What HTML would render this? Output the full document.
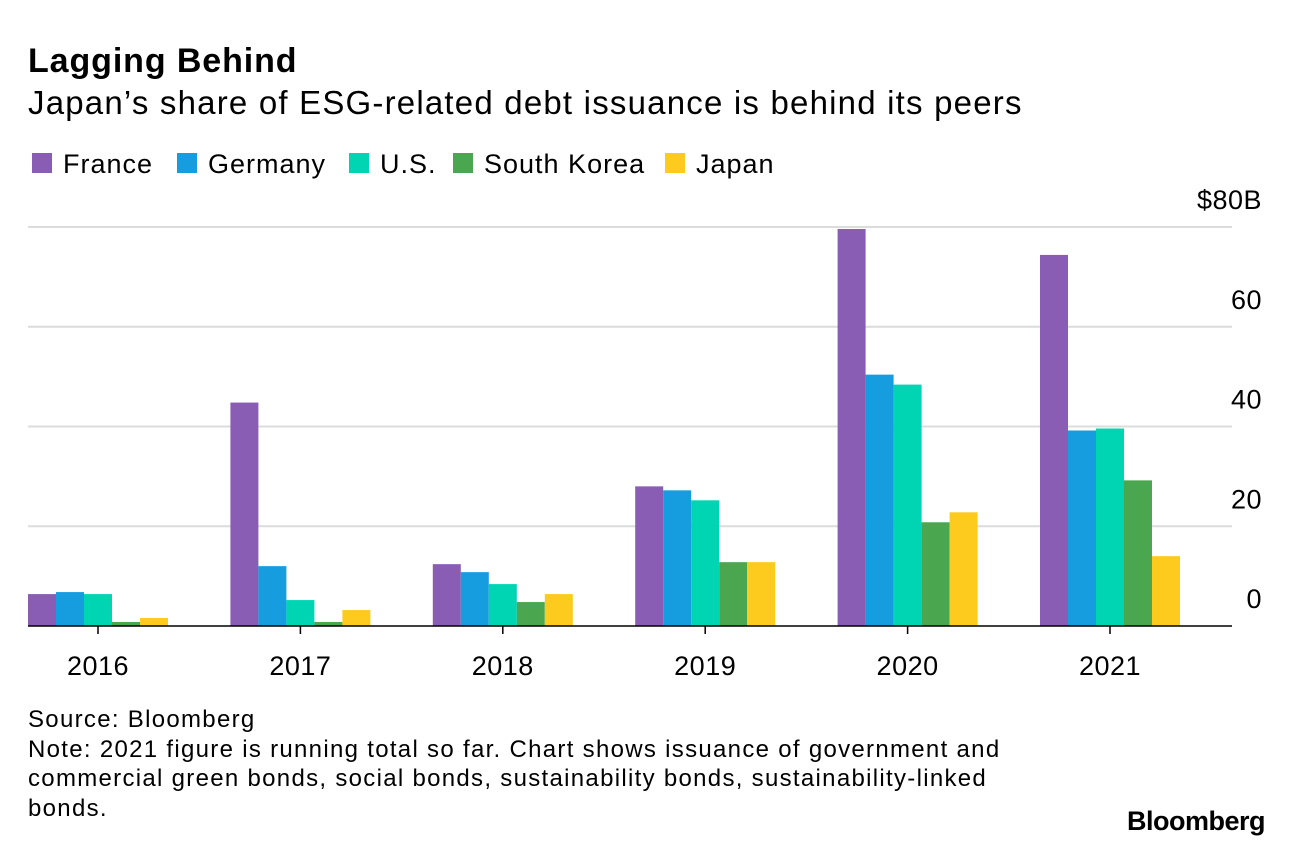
<!DOCTYPE html>
<html><head><meta charset="utf-8"><style>
body{margin:0;background:#fff;width:1296px;height:850px;overflow:hidden;font-family:"Liberation Sans",sans-serif;color:#000}
.t{position:absolute;white-space:nowrap}
</style></head><body>
<div class="t" style="left:28px;top:42px;font-size:34px;font-weight:bold;letter-spacing:0.9px">Lagging Behind</div>
<div class="t" style="left:28px;top:84px;font-size:33px;letter-spacing:1.2px">Japan’s share of ESG-related debt issuance is behind its peers</div>
<svg width="1296" height="850" style="position:absolute;left:0;top:0">
<g id="legend"></g><g id="grid"></g><g id="bars"></g><g id="axes"></g>
</svg>
<div class="t" style="left:28px;top:705px;font-size:24px;line-height:29.5px;letter-spacing:1.3px">Source: Bloomberg<br>Note: 2021 figure is running total so far. Chart shows issuance of government and<br>commercial green bonds, social bonds, sustainability bonds, sustainability-linked<br>bonds.</div>
<div class="t" style="left:1127px;top:806px;font-size:27px;font-weight:bold;letter-spacing:-0.5px">Bloomberg</div>
<script>
const years=["2016","2017","2018","2019","2020","2021"];
const seriesNames=["France","Germany","U.S.","South Korea","Japan"];
const france=[6.4,44.8,12.4,28,79.6,74.4];
const germany=[6.8,12,10.8,27.2,50.4,39.2];
const us=[6.4,5.2,8.4,25.2,48.4,39.6];
const southKorea=[0.8,0.8,4.8,12.8,20.8,29.2];
const japan=[1.6,3.2,6.4,12.8,22.8,14];
const yTicks=[0,20,40,60,80];
const yTickLabels=["0","20","40","60","$80B"];
const series=[france,germany,us,southKorea,japan];
const colors=["#8a5db4","#169ddf","#00d5b3","#4aa74f","#fdcb1d"];
const NS="http://www.w3.org/2000/svg";
const y=v=>626-v*(399/80);
const gx=i=>98+i*202.4;
const bw=28;
function mk(tag,attrs,parent,text){const e=document.createElementNS(NS,tag);for(const k in attrs)e.setAttribute(k,attrs[k]);if(text!=null)e.textContent=text;document.getElementById(parent).appendChild(e);return e;}
const legendX=[32,177,349,453,665];
seriesNames.forEach((n,i)=>{
 const lx=legendX[i];
 const r=mk('rect',{x:lx,y:153,width:20,height:20,fill:colors[i]},'legend');
 
 
 const t=mk('text',{x:lx+31,y:173,'font-size':27,'letter-spacing':1},'legend',n);
 
 
});
yTicks.forEach((v,i)=>{
 if(v>0){const l=mk('line',{x1:28,x2:1232,y1:y(v),y2:y(v),stroke:'#dcdcdc','stroke-width':2},'grid');
 
 }
 const t=mk('text',{x:1262,y:y(v)-18,'font-size':27,'letter-spacing':0.5,'text-anchor':'end'},'axes',yTickLabels[i]);
 
 
});
years.forEach((yr,i)=>{
 series.forEach((s,j)=>{
  const x=gx(i)-70+j*bw;
  const r=mk('rect',{x:x,y:y(s[i]),width:bw,height:626-y(s[i]),fill:colors[j]},'bars');
  
  
 });
 const tk=mk('line',{x1:gx(i),x2:gx(i),y1:626,y2:634,stroke:'#000','stroke-width':1.5},'axes');
 
 
 const t=mk('text',{x:gx(i),y:675,'font-size':27,'letter-spacing':0.5,'text-anchor':'middle'},'axes',yr);
 
 
});
const b=mk('line',{x1:28,x2:1232,y1:626,y2:626,stroke:'#000','stroke-width':1.5},'axes');


</script>
</body></html>
